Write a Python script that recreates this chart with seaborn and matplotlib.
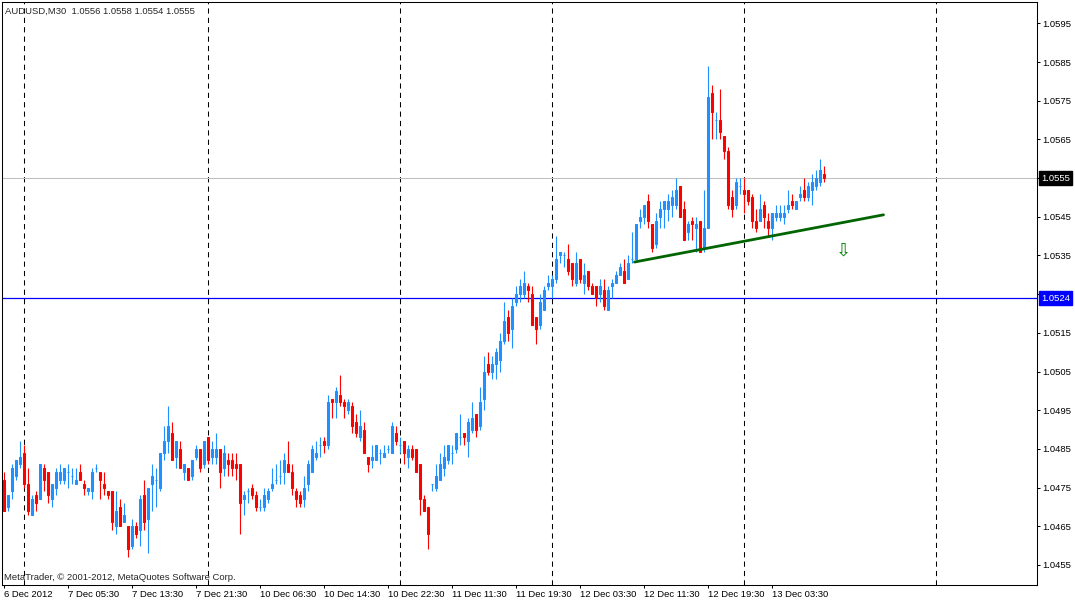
import numpy as np
import pandas as pd
import matplotlib
matplotlib.use("Agg")
import matplotlib.pyplot as plt
import matplotlib.transforms as mtransforms
import seaborn as sns

# AUDUSD M30 candles (bar 0 = 6 Dec 21:30)
opens = [
    1.0477, 1.0470, 1.0474, 1.0478, 1.0481, 1.0484, 1.0476, 1.0468, 1.0473, 1.0472,
    1.0480, 1.0479, 1.0472, 1.0475, 1.0477, 1.0477, 1.0479, 1.0478, 1.0476, 1.0479,
    1.0476, 1.0474, 1.0474, 1.0480, 1.0479, 1.0476, 1.0474, 1.0474, 1.0465, 1.0470,
    1.0466, 1.0465, 1.0460, 1.0465, 1.0464, 1.0473, 1.0467, 1.0476, 1.0477, 1.0475,
    1.0484, 1.0487, 1.0489, 1.0483, 1.0485, 1.0479, 1.0480, 1.0478, 1.0483, 1.0485,
    1.0481, 1.0488, 1.0483, 1.0483, 1.0485, 1.0480, 1.0482, 1.0482, 1.0481, 1.0481,
    1.0472, 1.0474, 1.0475, 1.0473, 1.0470, 1.0470, 1.0472, 1.0475, 1.0477, 1.0478,
    1.0479, 1.0481, 1.0479, 1.0474, 1.0473, 1.0472, 1.0476, 1.0479, 1.0483, 1.0486,
    1.0487, 1.0486, 1.0498, 1.0497, 1.0499, 1.0497, 1.0495, 1.0496, 1.0492, 1.0488,
    1.0490, 1.0483, 1.0482, 1.0482, 1.0484, 1.0483, 1.0485, 1.0484, 1.0489, 1.0486,
    1.0487, 1.0483, 1.0485, 1.0485, 1.0481, 1.0472, 1.0470, 1.0476, 1.0475, 1.0477,
    1.0480, 1.0482, 1.0484, 1.0485, 1.0488, 1.0489, 1.0487, 1.0490, 1.0494, 1.0491,
    1.0498, 1.0507, 1.0505, 1.0507, 1.0508, 1.0513, 1.0519, 1.0516, 1.0523, 1.0525,
    1.0525, 1.0527, 1.0525, 1.0519, 1.0517, 1.0521, 1.0527, 1.0527, 1.0529, 1.0535,
    1.0535, 1.0534, 1.0533, 1.0528, 1.0534, 1.0528, 1.0531, 1.0527, 1.0527, 1.0525,
    1.0526, 1.0521, 1.0527, 1.0528, 1.0530, 1.0531, 1.0529, 1.0534, 1.0534, 1.0544,
    1.0545, 1.0549, 1.0543, 1.0538, 1.0545, 1.0547, 1.0547, 1.0548, 1.0548, 1.0553,
    1.0547, 1.0541, 1.0544, 1.0542, 1.0544, 1.0537, 1.0542, 1.0577, 1.0570, 1.0570,
    1.0566, 1.0562, 1.0550, 1.0548, 1.0553, 1.0552, 1.0552, 1.0550, 1.0544, 1.0544,
    1.0548, 1.0544, 1.0542, 1.0545, 1.0545, 1.0545, 1.0547, 1.0549, 1.0547, 1.0550,
    1.0552, 1.0550, 1.0552, 1.0553, 1.0554, 1.0556,
]
highs = [
    1.0479, 1.0473, 1.0481, 1.0482, 1.0487, 1.0486, 1.0480, 1.0473, 1.0474, 1.0481,
    1.0481, 1.0479, 1.0476, 1.0480, 1.0481, 1.0480, 1.0481, 1.0480, 1.0480, 1.0481,
    1.0477, 1.0475, 1.0480, 1.0481, 1.0479, 1.0479, 1.0474, 1.0474, 1.0474, 1.0472,
    1.0471, 1.0465, 1.0467, 1.0466, 1.0473, 1.0477, 1.0475, 1.0481, 1.0480, 1.0484,
    1.0491, 1.0496, 1.0492, 1.0487, 1.0487, 1.0481, 1.0480, 1.0482, 1.0486, 1.0485,
    1.0487, 1.0488, 1.0487, 1.0489, 1.0485, 1.0486, 1.0484, 1.0484, 1.0484, 1.0481,
    1.0474, 1.0475, 1.0476, 1.0474, 1.0472, 1.0475, 1.0475, 1.0480, 1.0481, 1.0482,
    1.0484, 1.0487, 1.0481, 1.0475, 1.0474, 1.0478, 1.0482, 1.0486, 1.0487, 1.0488,
    1.0488, 1.0499, 1.0498, 1.0501, 1.0504, 1.0498, 1.0498, 1.0497, 1.0494, 1.0495,
    1.0492, 1.0483, 1.0486, 1.0486, 1.0485, 1.0486, 1.0486, 1.0492, 1.0491, 1.0488,
    1.0487, 1.0486, 1.0486, 1.0485, 1.0481, 1.0473, 1.0470, 1.0476, 1.0481, 1.0484,
    1.0486, 1.0486, 1.0486, 1.0489, 1.0494, 1.0489, 1.0493, 1.0497, 1.0494, 1.0501,
    1.0509, 1.0510, 1.0509, 1.0511, 1.0515, 1.0523, 1.0521, 1.0524, 1.0527, 1.0529,
    1.0531, 1.0528, 1.0527, 1.0519, 1.0525, 1.0527, 1.0530, 1.0530, 1.0540, 1.0536,
    1.0536, 1.0538, 1.0533, 1.0536, 1.0534, 1.0533, 1.0531, 1.0528, 1.0527, 1.0529,
    1.0529, 1.0527, 1.0529, 1.0531, 1.0533, 1.0534, 1.0535, 1.0541, 1.0543, 1.0547,
    1.0548, 1.0551, 1.0543, 1.0546, 1.0549, 1.0549, 1.0551, 1.0552, 1.0555, 1.0553,
    1.0549, 1.0544, 1.0545, 1.0545, 1.0544, 1.0552, 1.0584, 1.0579, 1.0572, 1.0578,
    1.0566, 1.0563, 1.0552, 1.0555, 1.0555, 1.0555, 1.0552, 1.0551, 1.0547, 1.0551,
    1.0549, 1.0546, 1.0546, 1.0548, 1.0548, 1.0548, 1.0552, 1.0551, 1.0549, 1.0553,
    1.0555, 1.0554, 1.0556, 1.0557, 1.0560, 1.0558,
]
lows = [
    1.0469, 1.0469, 1.0472, 1.0477, 1.0480, 1.0475, 1.0468, 1.0468, 1.0469, 1.0472,
    1.0474, 1.0471, 1.0470, 1.0473, 1.0476, 1.0476, 1.0475, 1.0476, 1.0476, 1.0477,
    1.0473, 1.0473, 1.0472, 1.0479, 1.0472, 1.0473, 1.0472, 1.0464, 1.0463, 1.0465,
    1.0466, 1.0457, 1.0459, 1.0462, 1.0460, 1.0464, 1.0458, 1.0469, 1.0470, 1.0474,
    1.0482, 1.0484, 1.0482, 1.0480, 1.0480, 1.0477, 1.0477, 1.0477, 1.0482, 1.0479,
    1.0480, 1.0481, 1.0481, 1.0481, 1.0475, 1.0478, 1.0478, 1.0478, 1.0477, 1.0463,
    1.0468, 1.0471, 1.0472, 1.0469, 1.0469, 1.0469, 1.0471, 1.0474, 1.0476, 1.0476,
    1.0476, 1.0479, 1.0473, 1.0470, 1.0470, 1.0470, 1.0474, 1.0479, 1.0482, 1.0483,
    1.0484, 1.0485, 1.0493, 1.0493, 1.0496, 1.0493, 1.0494, 1.0489, 1.0488, 1.0487,
    1.0484, 1.0479, 1.0480, 1.0482, 1.0481, 1.0483, 1.0484, 1.0484, 1.0486, 1.0484,
    1.0481, 1.0480, 1.0482, 1.0479, 1.0468, 1.0469, 1.0459, 1.0474, 1.0474, 1.0477,
    1.0478, 1.0481, 1.0481, 1.0484, 1.0486, 1.0486, 1.0483, 1.0489, 1.0488, 1.0490,
    1.0495, 1.0504, 1.0503, 1.0503, 1.0505, 1.0512, 1.0513, 1.0511, 1.0522, 1.0523,
    1.0524, 1.0523, 1.0517, 1.0512, 1.0516, 1.0521, 1.0526, 1.0524, 1.0528, 1.0533,
    1.0532, 1.0530, 1.0527, 1.0527, 1.0528, 1.0525, 1.0526, 1.0525, 1.0522, 1.0523,
    1.0521, 1.0521, 1.0524, 1.0528, 1.0530, 1.0528, 1.0529, 1.0533, 1.0534, 1.0542,
    1.0543, 1.0542, 1.0536, 1.0537, 1.0542, 1.0542, 1.0544, 1.0545, 1.0547, 1.0545,
    1.0539, 1.0539, 1.0539, 1.0536, 1.0536, 1.0536, 1.0542, 1.0565, 1.0565, 1.0565,
    1.0560, 1.0547, 1.0545, 1.0547, 1.0551, 1.0546, 1.0548, 1.0542, 1.0541, 1.0544,
    1.0542, 1.0540, 1.0539, 1.0544, 1.0544, 1.0543, 1.0546, 1.0547, 1.0547, 1.0549,
    1.0549, 1.0549, 1.0548, 1.0552, 1.0553, 1.0554,
]
closes = [
    1.0469, 1.0473, 1.0480, 1.0482, 1.0483, 1.0476, 1.0469, 1.0472, 1.0471, 1.0481,
    1.0477, 1.0473, 1.0476, 1.0479, 1.0479, 1.0480, 1.0479, 1.0478, 1.0477, 1.0477,
    1.0475, 1.0475, 1.0479, 1.0480, 1.0477, 1.0475, 1.0473, 1.0466, 1.0469, 1.0465,
    1.0468, 1.0459, 1.0465, 1.0463, 1.0472, 1.0466, 1.0475, 1.0478, 1.0477, 1.0484,
    1.0487, 1.0491, 1.0482, 1.0487, 1.0480, 1.0481, 1.0477, 1.0482, 1.0485, 1.0480,
    1.0487, 1.0482, 1.0485, 1.0485, 1.0479, 1.0484, 1.0481, 1.0480, 1.0480, 1.0471,
    1.0473, 1.0474, 1.0473, 1.0470, 1.0470, 1.0473, 1.0474, 1.0476, 1.0477, 1.0478,
    1.0482, 1.0479, 1.0475, 1.0472, 1.0471, 1.0475, 1.0481, 1.0485, 1.0484, 1.0486,
    1.0486, 1.0497, 1.0497, 1.0500, 1.0497, 1.0496, 1.0497, 1.0491, 1.0489, 1.0491,
    1.0484, 1.0481, 1.0483, 1.0486, 1.0484, 1.0484, 1.0485, 1.0491, 1.0487, 1.0486,
    1.0484, 1.0485, 1.0483, 1.0479, 1.0472, 1.0469, 1.0463, 1.0476, 1.0478, 1.0481,
    1.0483, 1.0486, 1.0484, 1.0489, 1.0488, 1.0488, 1.0492, 1.0493, 1.0490, 1.0497,
    1.0505, 1.0505, 1.0507, 1.0510, 1.0513, 1.0518, 1.0515, 1.0522, 1.0525, 1.0527,
    1.0528, 1.0526, 1.0517, 1.0516, 1.0523, 1.0526, 1.0528, 1.0529, 1.0534, 1.0536,
    1.0535, 1.0531, 1.0529, 1.0533, 1.0529, 1.0530, 1.0527, 1.0525, 1.0524, 1.0527,
    1.0522, 1.0526, 1.0528, 1.0530, 1.0532, 1.0528, 1.0533, 1.0534, 1.0543, 1.0545,
    1.0548, 1.0544, 1.0537, 1.0544, 1.0547, 1.0549, 1.0549, 1.0550, 1.0552, 1.0545,
    1.0539, 1.0543, 1.0543, 1.0543, 1.0536, 1.0542, 1.0576, 1.0572, 1.0570, 1.0567,
    1.0562, 1.0548, 1.0547, 1.0554, 1.0553, 1.0551, 1.0549, 1.0544, 1.0542, 1.0547,
    1.0545, 1.0542, 1.0546, 1.0546, 1.0546, 1.0546, 1.0548, 1.0548, 1.0549, 1.0551,
    1.0550, 1.0553, 1.0554, 1.0555, 1.0557, 1.0555,
]

# time axis labels (every 16 bars) and day separators
tick_bars = [0, 16, 32, 48, 64, 80, 96, 112, 128, 144, 160, 176, 192]
tick_labels = ["6 Dec 2012", "7 Dec 05:30", "7 Dec 13:30", "7 Dec 21:30",
               "10 Dec 06:30", "10 Dec 14:30", "10 Dec 22:30", "11 Dec 11:30",
               "11 Dec 19:30", "12 Dec 03:30", "12 Dec 11:30", "12 Dec 19:30",
               "13 Dec 03:30"]
day_bars = [5, 51, 99, 137, 185, 233]
price_ticks = [1.0455, 1.0465, 1.0475, 1.0485, 1.0495, 1.0505, 1.0515, 1.0525,
               1.0535, 1.0545, 1.0555, 1.0565, 1.0575, 1.0585, 1.0595]

# trend line drawn on the chart, and the two horizontal levels
trend_bars = [157.75, 220.0]
trend_prices = [1.05333, 1.05455]
arrow_bar, arrow_price = 209.9, 1.05363
bid_price = 1.0555
level_price = 1.0524
header = "AUDUSD,M30  1.0556 1.0558 1.0554 1.0555"

df = pd.DataFrame({"open": opens, "high": highs, "low": lows, "close": closes})
df["bar"] = np.arange(len(df))
bull = df["close"] >= df["open"]
colors = np.where(bull, "#1E90FF", "#FF0000")

sns.set_style("white")
plt.rcParams['font.family'] = ['Liberation Sans', 'DejaVu Sans']
fs = 6.8

fig = plt.figure(figsize=(10.75, 6.02), dpi=100)
ax = fig.add_axes([2 / 1075, 17 / 602, 1035 / 1075, 583 / 602])

# day separators
for b in day_bars:
    ax.axvline(b, color="black", lw=0.75, ls=(0, (5, 4)), zorder=1)

ax.axhline(bid_price, color="#C0C0C0", lw=0.75, zorder=1)
ax.axhline(level_price, color="#0000FF", lw=0.9, zorder=1)

# candles: wicks then bodies
ax.vlines(df["bar"], df["low"], df["high"], colors=colors, lw=0.8, zorder=2)
body_low = df[["open", "close"]].min(axis=1)
body_h = (df["close"] - df["open"]).abs()
ax.bar(df["bar"], body_h, bottom=body_low, width=0.5, color=colors,
       edgecolor=colors, linewidth=0.75, zorder=3)

sns.lineplot(x=trend_bars, y=trend_prices, color="#006400", lw=2, ax=ax, zorder=4)
ax.text(arrow_bar, arrow_price, "\u21e9", color="#008000", fontsize=13,
        family="DejaVu Sans", ha="center", va="center", zorder=4)

ax.set_xlim(-0.375, 258.375)
ax.set_ylim(1.044982, 1.060051)

ax.yaxis.tick_right()
ax.set_yticks(price_ticks)
ax.set_yticklabels([f"{p:.4f}" for p in price_ticks])
ax.tick_params(axis="y", direction="out", length=2.2, width=0.75, pad=1.5,
               labelsize=fs, colors="black", right=True, left=False)

ax.set_xticks(tick_bars)
ax.set_xticklabels(tick_labels, ha="left")
ax.tick_params(axis="x", direction="out", length=2.5, width=0.75, pad=1,
               labelsize=fs, colors="black", bottom=True)
shift = mtransforms.ScaledTranslation(1 / 100, 0, fig.dpi_scale_trans)
for lab in ax.get_xticklabels():
    lab.set_transform(lab.get_transform() + shift)

for sp in ax.spines.values():
    sp.set_color("black")
    sp.set_linewidth(0.75)
ax.set_xlabel("")
ax.set_ylabel("")

# price boxes on the right scale
tr = mtransforms.blended_transform_factory(ax.transAxes, ax.transData)
ax.text(1.0 + 4 / 1035, bid_price, f"{bid_price:.4f}", transform=tr, color="white",
        fontsize=fs, ha="left", va="center", clip_on=False, zorder=10,
        bbox=dict(boxstyle="square,pad=0.25", facecolor="black", edgecolor="black"))
ax.text(1.0 + 4 / 1035, level_price, f"{level_price:.4f}", transform=tr, color="white",
        fontsize=fs, ha="left", va="center", clip_on=False, zorder=10,
        bbox=dict(boxstyle="square,pad=0.25", facecolor="#0000FF", edgecolor="#0000FF"))

fig.text(5 / 1075, 1 - 11 / 602, header, fontsize=fs, va="center", ha="left")
fig.text(4 / 1075, 1 - 577 / 602, "MetaTrader, \u00a9 2001-2012, MetaQuotes Software Corp.",
         fontsize=fs, va="center", ha="left")

fig.savefig("out.png", dpi=100)
